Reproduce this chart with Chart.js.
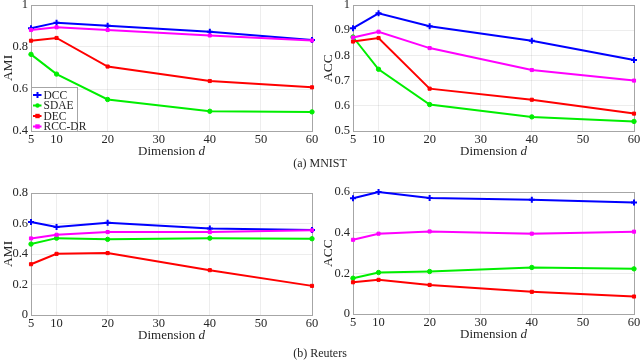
<!DOCTYPE html>
<html>
<head>
<meta charset="utf-8">
<script src="https://cdn.jsdelivr.net/npm/chart.js@4/dist/chart.umd.min.js"></script>
<style>
  html, body { margin:0; padding:0; background:#fff; }
  body { width:640px; height:360px; position:relative; overflow:hidden; }
  .wrap { position:absolute; }
  .cap { position:absolute; left:0; width:640px; text-align:center; font-family:"Liberation Serif", serif; font-size:12px; color:#262626; line-height:14px; }
</style>
</head>
<body>
<div class="wrap" style="left:0;top:0;width:320px;height:160px"><canvas id="c1"></canvas></div>
<div class="wrap" style="left:320px;top:0;width:320px;height:160px"><canvas id="c2"></canvas></div>
<div class="wrap" style="left:0;top:180px;width:320px;height:170px"><canvas id="c3"></canvas></div>
<div class="wrap" style="left:320px;top:180px;width:320px;height:170px"><canvas id="c4"></canvas></div>
<div class="cap" style="top:156px">(a) MNIST</div>
<div class="cap" style="top:346px">(b) Reuters</div>
<script>
// ---- data ----
const dims = [5, 10, 20, 40, 60];
const xTicks = [5, 10, 20, 30, 40, 50, 60];
const seriesNames = ['DCC', 'SDAE', 'DEC', 'RCC-DR'];

const mnistAmiDCC   = [0.889, 0.916, 0.901, 0.873, 0.833];
const mnistAmiSDAE  = [0.765, 0.671, 0.550, 0.494, 0.491];
const mnistAmiDEC   = [0.830, 0.843, 0.707, 0.638, 0.608];
const mnistAmiRCC   = [0.881, 0.894, 0.881, 0.855, 0.831];

const mnistAccDCC   = [0.908, 0.967, 0.916, 0.858, 0.782];
const mnistAccSDAE  = [0.873, 0.745, 0.605, 0.556, 0.538];
const mnistAccDEC   = [0.855, 0.869, 0.668, 0.624, 0.569];
const mnistAccRCC   = [0.871, 0.894, 0.829, 0.742, 0.700];

const reutAmiDCC    = [0.610, 0.577, 0.605, 0.568, 0.557];
const reutAmiSDAE   = [0.465, 0.504, 0.496, 0.504, 0.500];
const reutAmiDEC    = [0.333, 0.401, 0.406, 0.294, 0.191];
const reutAmiRCC    = [0.502, 0.526, 0.544, 0.544, 0.555];

const reutAccDCC    = [0.569, 0.600, 0.571, 0.562, 0.548];
const reutAccSDAE   = [0.176, 0.204, 0.209, 0.229, 0.222];
const reutAccDEC    = [0.156, 0.168, 0.143, 0.109, 0.086];
const reutAccRCC    = [0.365, 0.395, 0.406, 0.395, 0.405];

// ---- styles ----
const colors = ['#0000ff', '#00ee00', '#ff0000', '#ff00ff'];
const pStyles = ['cross', 'circle', 'rect', 'rect'];
const pRadius = [3, 2.2, 2.2, 2.2];
const pBorder = [2, 1, 1, 1];
const drawOrder = [3, 2, 1, 0];
const TXT = '#262626';
const SERIF = '"Liberation Serif", "Times New Roman", serif';

function makeDatasets(arrs) {
  return arrs.map((vals, i) => ({
    label: seriesNames[i],
    data: dims.map((d, j) => ({ x: d, y: vals[j] })),
    borderColor: colors[i],
    backgroundColor: colors[i],
    borderWidth: 2,
    pointStyle: pStyles[i],
    pointRadius: pRadius[i],
    pointBorderWidth: pBorder[i],
    pointHoverRadius: pRadius[i],
    tension: 0,
    clip: false,
    order: drawOrder[i]
  }));
}

const framePlugin = {
  id: 'frame',
  beforeDatasetsDraw(chart) {
    const a = chart.chartArea, ctx = chart.ctx;
    ctx.save();
    ctx.strokeStyle = '#a6a6a6';
    ctx.lineWidth = 1;
    ctx.strokeRect(Math.round(a.left) + 0.5, Math.round(a.top) + 0.5, Math.round(a.right - a.left), Math.round(a.bottom - a.top));
    ctx.restore();
  },
  afterDraw(chart) {
    const a = chart.chartArea, ctx = chart.ctx;
    ctx.save();
    ctx.fillStyle = TXT;
    ctx.textBaseline = 'middle';
    const f1 = '13px ' + SERIF, f2 = 'italic 13px ' + SERIF;
    ctx.font = f1; const w1 = ctx.measureText('Dimension ').width;
    ctx.font = f2; const w2 = ctx.measureText('d').width;
    const cx = (a.left + a.right) / 2;
    const y = a.bottom + chart.options.plugins.frame.titleOffset;
    let x = cx - (w1 + w2) / 2;
    ctx.textAlign = 'left';
    ctx.font = f1; ctx.fillText('Dimension ', x, y);
    ctx.font = f2; ctx.fillText('d', x + w1, y);
    ctx.restore();
  }
};

const legendPlugin = {
  id: 'boxLegend',
  afterDatasetsDraw(chart) {
    if (!chart.options.plugins.boxLegend.show) return;
    const a = chart.chartArea, ctx = chart.ctx;
    const L = Math.round(a.left) + 0.5, B = Math.round(a.bottom) + 0.5;
    const W = 46, H = 44, T = B - H;
    ctx.save();
    ctx.fillStyle = '#fff';
    ctx.fillRect(L, T, W, H);
    ctx.strokeStyle = '#a6a6a6';
    ctx.lineWidth = 1;
    ctx.strokeRect(L, T, W, H);
    ctx.font = '11.5px ' + SERIF;
    ctx.textBaseline = 'middle';
    ctx.textAlign = 'left';
    seriesNames.forEach((name, i) => {
      const y = T + 7.5 + i * 10.5;
      ctx.strokeStyle = colors[i];
      ctx.lineWidth = 2;
      ctx.beginPath(); ctx.moveTo(L + 1.5, y); ctx.lineTo(L + 10, y); ctx.stroke();
      ctx.fillStyle = colors[i];
      ctx.beginPath();
      if (pStyles[i] === 'cross') {
        ctx.moveTo(L + 6 - 3, y); ctx.lineTo(L + 6 + 3, y);
        ctx.moveTo(L + 6, y - 3); ctx.lineTo(L + 6, y + 3);
        ctx.lineWidth = 2; ctx.stroke();
      } else if (pStyles[i] === 'circle') {
        ctx.arc(L + 6, y, 2.2, 0, Math.PI * 2); ctx.fill();
      } else {
        ctx.rect(L + 6 - 2.2, y - 2.2, 4.4, 4.4); ctx.fill();
      }
      ctx.fillStyle = TXT;
      ctx.fillText(name, L + 12, y + 0.5);
    });
    ctx.restore();
  }
};

function fmt(v) { return String(+Number(v).toFixed(2)); }

function makeChart(id, arrs, yTitle, yMin, yMax, yStep, geo, showLegend) {
  const ctx = document.getElementById(id);
  return new Chart(ctx, {
    type: 'line',
    data: { datasets: makeDatasets(arrs) },
    plugins: [framePlugin, legendPlugin],
    options: {
      responsive: true,
      maintainAspectRatio: false,
      animation: false,
      events: [],
      layout: { padding: { top: geo.top, right: geo.right, left: 0, bottom: 0 } },
      plugins: {
        legend: { display: false },
        tooltip: { enabled: false },
        frame: { titleOffset: geo.titleOff },
        boxLegend: { show: showLegend }
      },
      scales: {
        x: {
          type: 'linear',
          min: 5, max: 60,
          afterBuildTicks(s) { s.ticks = xTicks.map(v => ({ value: v })); },
          afterFit(s) { s.height = geo.xH; s.paddingLeft = 0; s.paddingRight = 0; },
          border: { display: false },
          grid: { color: 'rgba(0,0,0,0.07)', drawTicks: false, lineWidth: 1 },
          ticks: { color: TXT, font: { family: SERIF, size: 12.5 }, padding: 1, maxRotation: 0, autoSkip: false, callback: v => String(v) }
        },
        y: {
          min: yMin, max: yMax,
          afterFit(s) { s.width = geo.left; s.paddingTop = 0; s.paddingBottom = 0; },
          border: { display: false },
          grid: { color: 'rgba(0,0,0,0.07)', drawTicks: false, lineWidth: 1 },
          ticks: { color: TXT, font: { family: SERIF, size: 12.5 }, padding: 3, stepSize: yStep, callback: v => fmt(v) },
          title: { display: true, text: yTitle, color: TXT, font: { family: SERIF, size: 13.5 }, padding: { top: 0, bottom: 0 } }
        }
      }
    }
  });
}

makeChart('c1', [mnistAmiDCC, mnistAmiSDAE, mnistAmiDEC, mnistAmiRCC], 'AMI', 0.4, 1, 0.2,
  { top: 5, right: 8, left: 31, xH: 29, titleOff: 21 }, true);
makeChart('c2', [mnistAccDCC, mnistAccSDAE, mnistAccDEC, mnistAccRCC], 'ACC', 0.5, 1, 0.1,
  { top: 5, right: 6, left: 33, xH: 29, titleOff: 21 }, false);
makeChart('c3', [reutAmiDCC, reutAmiSDAE, reutAmiDEC, reutAmiRCC], 'AMI', 0, 0.8, 0.2,
  { top: 13, right: 8, left: 31, xH: 35, titleOff: 21 }, false);
makeChart('c4', [reutAccDCC, reutAccSDAE, reutAccDEC, reutAccRCC], 'ACC', 0, 0.6, 0.2,
  { top: 12, right: 6, left: 33, xH: 36, titleOff: 21 }, false);
</script>
</body>
</html>
